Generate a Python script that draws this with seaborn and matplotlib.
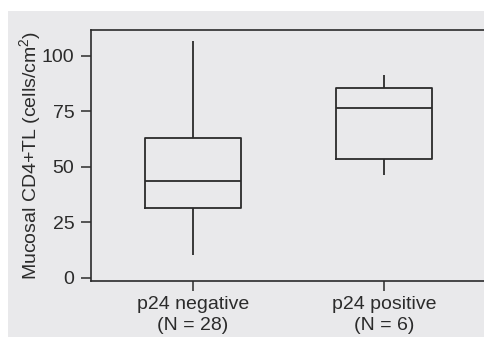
import matplotlib
matplotlib.use("Agg")
import matplotlib.pyplot as plt
from matplotlib.patches import Rectangle
import pandas as pd
import seaborn as sns

# five-number summaries (min, Q1, median, Q3, max)
groups = ["p24 negative\n(N = 28)", "p24 positive\n(N = 6)"]
negative_vals = [10.4, 31.5, 43.7, 63.0, 106.7]
positive_vals = [46.4, 53.6, 76.6, 85.6, 91.4]
yticks = [0, 25, 50, 75, 100]

df = pd.DataFrame({
    "group": [groups[0]] * len(negative_vals) + [groups[1]] * len(positive_vals),
    "value": negative_vals + positive_vals,
})

sns.set_style("white")
plt.rcParams["font.family"] = ["Liberation Sans", "DejaVu Sans"]
plt.rcParams["mathtext.default"] = "regular"

bg = "#e9e9eb"
ink = "#2b2b2b"

fig = plt.figure(figsize=(4.85, 3.37), dpi=100)
fig.patches.append(Rectangle((8 / 485, 0), 1, 1 - 11 / 337, transform=fig.transFigure,
                             facecolor=bg, edgecolor="none", zorder=-1))
ax = fig.add_axes([91 / 485, 1 - 281 / 337, 1 - 91 / 485, (281 - 30) / 337])
ax.set_facecolor(bg)

sns.boxplot(data=df, x="group", y="value", ax=ax, fill=False, color=ink,
            width=0.5, linewidth=1.3, whis=(0, 100), showcaps=False,
            medianprops=dict(color=ink, linewidth=1.3))

ax.set_xlim(-0.534, 1.53)
ax.set_ylim(-1.4, 111.7)
ax.set_yticks(yticks)
ax.set_xlabel("")
ax.set_ylabel("Mucosal CD4+TL (cells/cm$^{2}$)", fontsize=14, color=ink, labelpad=-1)
ax.tick_params(axis="both", left=True, bottom=True, length=7, width=1.1, color=ink,
               labelcolor=ink, labelsize=14, direction="out")
ax.tick_params(axis="y", pad=5)
ax.tick_params(axis="x", pad=4)
for lab in ax.get_xticklabels():
    lab.set_linespacing(1.3)
for s in ["left", "bottom", "top"]:
    ax.spines[s].set_color(ink)
    ax.spines[s].set_linewidth(1.2)
ax.spines["right"].set_visible(False)

fig.savefig("out.png", dpi=100, facecolor="white")
